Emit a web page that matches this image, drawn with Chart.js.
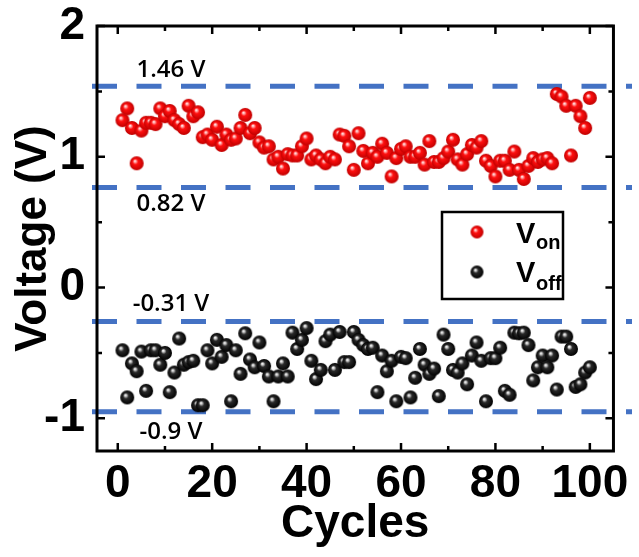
<!DOCTYPE html>
<html>
<head>
<meta charset="utf-8">
<script src="https://cdn.jsdelivr.net/npm/chart.js@4.4.1/dist/chart.umd.min.js"></script>
<style>
  html, body { margin: 0; padding: 0; background: #fff; }
  #wrap { width: 639px; height: 557px; }
</style>
</head>
<body>
<div id="wrap"><canvas id="voltChart" width="639" height="557"></canvas></div>
<script>
// V_on (red) and V_off (black), one value per cycle, cycles 1..100
const vOn = [
  1.28, 1.37, 1.22, 0.95, 1.20, 1.26, 1.26, 1.25, 1.37, 1.31,
  1.35, 1.28, 1.25, 1.22, 1.39, 1.31, 1.34, 1.15, 1.17, 1.13,
  1.23, 1.09, 1.17, 1.13, 1.14, 1.22, 1.32, 1.18, 1.22, 1.11,
  1.07, 1.08, 0.98, 1.00, 0.91, 1.02, 1.01, 1.01, 1.08, 1.14,
  0.98, 1.01, 0.98, 0.95, 1.00, 0.98, 1.17, 1.16, 1.08, 0.90,
  1.18, 1.045, 0.95, 1.03, 1.00, 1.10, 1.03, 0.85, 0.99, 1.06,
  1.08, 1.00, 1.00, 1.03, 0.94, 1.12, 0.96, 0.96, 0.99, 1.04,
  1.13, 0.98, 0.94, 1.02, 1.09, 1.07, 1.12, 0.97, 0.93, 0.85,
  0.97, 0.97, 0.90, 1.04, 0.90, 0.83, 0.93, 0.99, 0.96, 0.98,
  0.99, 0.95, 1.48, 1.46, 1.39, 1.01, 1.39, 1.31, 1.22, 1.45
];
const vOff = [
  -0.48, -0.84, -0.58, -0.64, -0.49, -0.79, -0.48, -0.48, -0.59, -0.50,
  -0.80, -0.65, -0.39, -0.59, -0.57, -0.56, -0.90, -0.90, -0.48, -0.58,
  -0.40, -0.53, -0.44, -0.87, -0.48, -0.66, -0.35, -0.55, -0.61, -0.42,
  -0.60, -0.68, -0.87, -0.68, -0.58, -0.68, -0.345, -0.47, -0.40, -0.31,
  -0.56, -0.70, -0.63, -0.41, -0.36, -0.63, -0.34, -0.57, -0.57, -0.34,
  -0.40, -0.44, -0.47, -0.46, -0.80, -0.52, -0.64, -0.56, -0.87, -0.53,
  -0.54, -0.84, -0.69, -0.47, -0.59, -0.66, -0.62, -0.83, -0.36, -0.47,
  -0.63, -0.65, -0.58, -0.74, -0.52, -0.42, -0.56, -0.87, -0.54, -0.54,
  -0.46, -0.79, -0.82, -0.345, -0.35, -0.345, -0.44, -0.71, -0.61, -0.52,
  -0.61, -0.52, -0.78, -0.375, -0.375, -0.47, -0.76, -0.74, -0.65, -0.61
];
const cycles = vOn.map((_, i) => i + 1);

// dashed reference lines (where they sit on the plot) and their captions
const refLevels = [1.54, 0.765, -0.26, -0.95];
const refLabels = ['1.46 V', '0.82 V', '-0.31 V', '-0.9 V'];
const refLabelOffset = [-16, 17, -17, 20];

const xTicks = [0, 10, 20, 30, 40, 50, 60, 70, 80, 90, 100];
const yTicks = [-1, -0.5, 0, 0.5, 1, 1.5, 2];

const boldFont = '"Liberation Sans", Arial, sans-serif';

function makeBall(hi, base, dark, r) {
    const c = document.createElement('canvas');
    const s = Math.ceil(r * 2) + 2;
    c.width = s;
    c.height = s;
    const g = c.getContext('2d');
    const cx = s / 2, cy = s / 2;
    const grad = g.createRadialGradient(cx - r * 0.28, cy - r * 0.35, r * 0.02, cx, cy, r);
    grad.addColorStop(0, '#ffffff');
    grad.addColorStop(0.14, hi);
    grad.addColorStop(0.38, base);
    grad.addColorStop(1, dark);
    g.fillStyle = grad;
    g.beginPath();
    g.arc(cx, cy, r, 0, Math.PI * 2);
    g.fill();
    return c;
}

const redBall = makeBall('#ffb0b0', '#ff1010', '#c00000', 7);
const blackBall = makeBall('#d0d0d0', '#2a2a2a', '#000000', 7);
const redBallSmall = makeBall('#ffb0b0', '#ff1010', '#c00000', 6.5);
const blackBallSmall = makeBall('#d0d0d0', '#2a2a2a', '#000000', 6.5);

// dashed lines + captions, under the points
const refLinesPlugin = {
    id: 'refLines',
    beforeDatasetsDraw(chart) {
        const {ctx, scales: {y}} = chart;
        ctx.save();
        ctx.strokeStyle = '#4472C4';
        ctx.lineWidth = 5;
        ctx.setLineDash([25, 19.5]);
        refLevels.forEach(v => {
            const py = y.getPixelForValue(v);
            ctx.beginPath();
            ctx.moveTo(92, py);
            ctx.lineTo(632, py);
            ctx.stroke();
        });
        ctx.setLineDash([]);
        ctx.fillStyle = '#000';
        ctx.font = '600 24px "Open Sans", Lato, sans-serif';
        ctx.textAlign = 'center';
        ctx.textBaseline = 'middle';
        refLevels.forEach((v, i) => {
            const py = y.getPixelForValue(v);
            ctx.fillText(refLabels[i], 171, py + refLabelOffset[i]);
        });
        ctx.restore();
    }
};

// frame, inward ticks on all four sides, legend box
const framePlugin = {
    id: 'frame',
    afterDraw(chart) {
        const {ctx, chartArea: a, scales: {x, y}} = chart;
        ctx.save();
        ctx.strokeStyle = '#000';
        ctx.lineWidth = 2.5;
        xTicks.forEach(v => {
            const px = x.getPixelForValue(v);
            const len = v % 20 === 0 ? 8 : 5;
            ctx.beginPath();
            ctx.moveTo(px, a.bottom); ctx.lineTo(px, a.bottom - len);
            ctx.moveTo(px, a.top); ctx.lineTo(px, a.top + len);
            ctx.stroke();
        });
        yTicks.forEach(v => {
            const py = y.getPixelForValue(v);
            const len = Number.isInteger(v) ? 8 : 5;
            ctx.beginPath();
            ctx.moveTo(a.left, py); ctx.lineTo(a.left + len, py);
            ctx.moveTo(a.right, py); ctx.lineTo(a.right - len, py);
            ctx.stroke();
        });
        ctx.lineWidth = 3;
        ctx.strokeRect(a.left, a.top, a.right - a.left, a.bottom - a.top);

        // legend
        ctx.lineWidth = 2.5;
        ctx.strokeRect(442, 212, 121, 87);
        ctx.drawImage(redBallSmall, 477 - redBallSmall.width / 2, 232 - redBallSmall.height / 2);
        ctx.drawImage(blackBallSmall, 477 - blackBallSmall.width / 2, 272 - blackBallSmall.height / 2);
        ctx.fillStyle = '#000';
        ctx.textAlign = 'left';
        ctx.textBaseline = 'alphabetic';
        ctx.font = 'bold 29px ' + boldFont;
        ctx.fillText('V', 516, 243);
        ctx.fillText('V', 516, 282);
        ctx.font = 'bold 20px ' + boldFont;
        ctx.fillText('on', 536, 249);
        ctx.fillText('off', 536, 290);
        ctx.restore();
    }
};

const ctx = document.getElementById('voltChart').getContext('2d');

const voltChart = new Chart(ctx, {
    type: 'scatter',
    data: {
        datasets: [
            {
                label: 'Von',
                data: cycles.map((c, i) => ({x: c, y: vOn[i]})),
                pointStyle: redBall,
                pointRadius: 7
            },
            {
                label: 'Voff',
                data: cycles.map((c, i) => ({x: c, y: vOff[i]})),
                pointStyle: blackBall,
                pointRadius: 7
            }
        ]
    },
    options: {
        responsive: false,
        animation: false,
        layout: {padding: {left: 0, right: 17, top: 26, bottom: 0}},
        plugins: {
            legend: {display: false},
            tooltip: {enabled: false}
        },
        scales: {
            x: {
                type: 'linear',
                min: -4.4,
                max: 105,
                afterBuildTicks: s => { s.ticks = xTicks.map(v => ({value: v})); },
                afterFit: s => { s.height = 106; },
                grid: {display: false, drawTicks: false},
                border: {display: false},
                ticks: {
                    autoSkip: false,
                    maxRotation: 0,
                    padding: 10,
                    color: '#000',
                    font: {family: boldFont, size: 46, weight: 'bold', lineHeight: 1},
                    callback: v => (v % 20 === 0 ? String(v) : '')
                },
                title: {
                    display: true,
                    text: 'Cycles',
                    color: '#000',
                    font: {family: boldFont, size: 46, weight: 'bold', lineHeight: 1.2},
                    padding: {top: 0, bottom: 5}
                }
            },
            y: {
                min: -1.25,
                max: 2,
                afterBuildTicks: s => { s.ticks = yTicks.map(v => ({value: v})); },
                afterFit: s => {
                    s.width = 97;
                    s.paddingTop = 0;
                    s.paddingBottom = 0;
                },
                grid: {display: false, drawTicks: false},
                border: {display: false},
                ticks: {
                    padding: 12,
                    color: '#000',
                    font: {family: boldFont, size: 46, weight: 'bold', lineHeight: 1},
                    callback: v => (Number.isInteger(v) ? String(v) : '')
                },
                title: {
                    display: true,
                    text: 'Voltage (V)',
                    color: '#000',
                    font: {family: boldFont, size: 44, weight: 'bold', lineHeight: 1.2},
                    padding: {top: 7, bottom: 0}
                }
            }
        }
    },
    plugins: [refLinesPlugin, framePlugin]
});
</script>
</body>
</html>
